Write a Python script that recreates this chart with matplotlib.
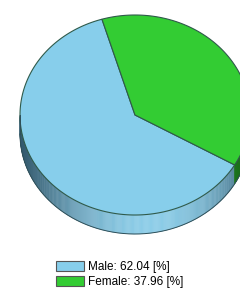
import numpy as np
import matplotlib.pyplot as plt
from matplotlib.patches import Polygon, Patch

plt.rcParams['font.family'] = ['Liberation Sans', 'DejaVu Sans']

# data
labels = ['Male', 'Female']
values = [62.04, 37.96]
colors = ['#87ceeb', '#33cc33']
side_dark = [np.array([52, 90, 110]) / 255, np.array([20, 90, 20]) / 255]
side_light = [np.array([140, 205, 232]) / 255, np.array([40, 160, 40]) / 255]

# geometry in pixels
cx, cy = 135, 115
rx, ry = 115, 100
depth = 19
start = 106.7  # boundary angle at top (degrees, ccw)

fig = plt.figure(figsize=(2.4, 2.91), dpi=100)
ax = fig.add_axes([0, 0, 1, 1])
ax.set_xlim(0, 240)
ax.set_ylim(291, 0)
ax.axis('off')


def pt(a, dy=0):
    t = np.radians(a)
    return cx + rx * np.cos(t), cy - ry * np.sin(t) + dy


# slice angle ranges: female goes clockwise from start, male takes the rest
fem = values[1] / 100 * 360
ranges = {1: (start - fem, start), 0: (start, start - fem + 360)}

# side walls (front half only, 180..360)
for i in [0, 1]:
    a0, a1 = ranges[i]
    angs = np.linspace(a0, a1, 400)
    for k in range(len(angs) - 1):
        a, b = angs[k], angs[k + 1]
        am = (a + b) / 2 % 360
        if not (180 <= am <= 360):
            continue
        f = np.cos(np.radians(am - 278)) ** 2
        c = side_dark[i] + (side_light[i] - side_dark[i]) * f
        p = [pt(a), pt(b), pt(b, depth), pt(a, depth)]
        ax.add_patch(Polygon(p, closed=True, fc=c, ec=c, lw=0.3))

# bottom edge of side
ang = np.linspace(180, 360, 200)
xs, ys = zip(*[pt(a, depth) for a in ang])
ax.plot(xs, ys, color='#2f4f58', lw=0.7)
ax.plot([cx - rx, cx - rx], [cy, cy + depth], color='#2f4f58', lw=0.7)

# top faces
for i in [0, 1]:
    a0, a1 = ranges[i]
    angs = np.linspace(a0, a1, 200)
    p = [(cx, cy)] + [pt(a) for a in angs]
    ax.add_patch(Polygon(p, closed=True, fc=colors[i], ec='#2f5a4a', lw=0.8))

# legend
handles = [Patch(fc=colors[i], ec='#555555', lw=0.8) for i in range(2)]
texts = ['%s: %.2f [%%]' % (labels[i], values[i]) for i in range(2)]
ax.legend(handles, texts, loc='upper left', bbox_to_anchor=(56 / 240, 1 - 261 / 291),
          frameon=False, fontsize=8.5, handlelength=2.35, handleheight=0.85,
          handletextpad=0.4, labelspacing=0.25, borderpad=0, borderaxespad=0)

fig.savefig('out.png', dpi=100)
